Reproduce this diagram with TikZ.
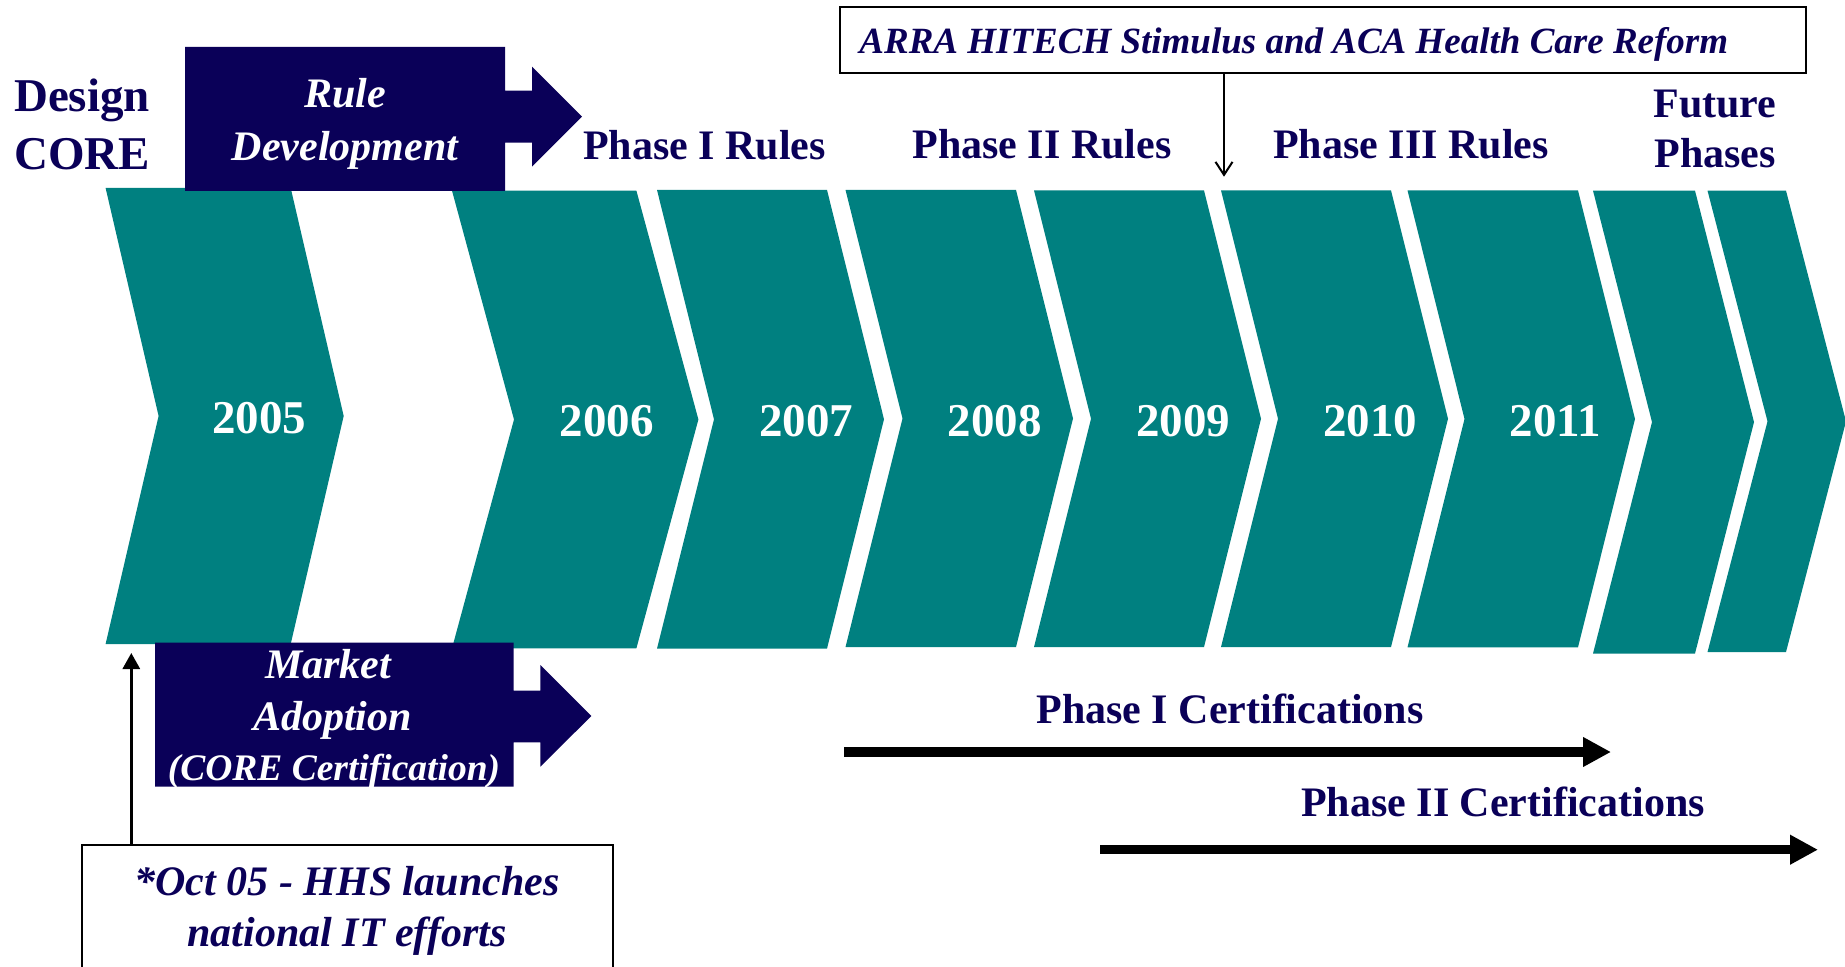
\documentclass[tikz,border=0pt]{standalone}
\usepackage{fontspec}
\setmainfont{Liberation Serif}
\usetikzlibrary{arrows.meta}
\definecolor{navy}{RGB}{10,0,88}
\definecolor{tealc}{RGB}{0,128,128}
\newcommand{\mychev}[5]{%
  \fill[tealc] (#1,#4) -- (#2,#4) -- ({#2+#3},{(#4+#5)/2}) -- (#2,#5) -- (#1,#5) -- ({#1+#3},{(#4+#5)/2}) -- cycle;}
\begin{document}
\begin{tikzpicture}[x=0.5pt,y=-0.5pt,
  lab/.style={text=navy,font=\bfseries\fontsize{21pt}{25pt}\selectfont,inner sep=0pt,anchor=base},
  biglab/.style={text=navy,font=\bfseries\fontsize{23.5pt}{28pt}\selectfont,inner sep=0pt,anchor=base},
  wlab/.style={text=white,font=\bfseries\itshape\fontsize{21pt}{25pt}\selectfont,inner sep=0pt,anchor=base},
  nlab/.style={text=navy,font=\bfseries\itshape\fontsize{21pt}{25pt}\selectfont,inner sep=0pt,anchor=base},
  year/.style={text=white,font=\bfseries\fontsize{23.5pt}{28pt}\selectfont,inner sep=0pt,anchor=base},
  framebox/.style={draw=black,line width=1pt,inner sep=0pt},
  thinarrow/.style={line width=1pt,-{Straight Barb[length=6.5pt,width=8.5pt]}},
  uparrow/.style={line width=1.5pt,-{Triangle[length=8pt,width=8.5pt]}},
  certarrow/.style={line width=4.65pt,-{Triangle[length=14pt,width=14pt]}}
]
\useasboundingbox (0,0) rectangle (1845,967);

% chevrons
\mychev{105.6}{290.7}{53}{188}{644}
\mychev{452}{636.4}{62}{190.7}{648.3}
\mychev{657}{827}{57}{190}{648.7}
\mychev{845.5}{1016}{57}{190}{647}
\mychev{1034}{1204}{57}{190.5}{647}
\mychev{1221}{1391}{57}{190.5}{647}
\mychev{1407.5}{1578}{57}{190.5}{647.3}
\mychev{1593}{1695}{59}{190.7}{653.5}
\mychev{1707.5}{1786}{60}{190.7}{652}

% years
\node[year] (y2005) at (259,434) {2005};
\node[year] (y2006) at (606.6,436.7) {2006};
\node[year] (y2007) at (806,436.7) {2007};
\node[year] (y2008) at (994.7,436.7) {2008};
\node[year] (y2009) at (1183,436.7) {2009};
\node[year] (y2010) at (1370,436.7) {2010};
\node[year] (y2011) at (1555.6,436.7) {2011};

% Design CORE
\node[biglab] (design) at (82,112) {Design};
\node[biglab] (core) at (82,170) {CORE};

% Rule Development block arrow
\fill[navy] (185,47) -- (505,47) -- (505,90.7) -- (532,90.7) -- (532,66.7) -- (582,116.7)
  -- (532,166.7) -- (532,142.7) -- (505,142.7) -- (505,191) -- (185,191) -- cycle;
\node[wlab] (rule1) at (345,108) {Rule};
\node[wlab] (rule2) at (345,161) {Development};

% Market Adoption block arrow
\fill[navy] (155,642.7) -- (513.6,642.7) -- (513.6,690.7) -- (540.4,690.7) -- (540.4,665) -- (591.3,716)
  -- (540.4,766.7) -- (540.4,742.3) -- (513.6,742.3) -- (513.6,786.7) -- (155,786.7) -- cycle;
\node[wlab] (mkt1) at (328,678) {Market};
\node[wlab] (mkt2) at (332.5,730) {Adoption};
\node[wlab,font=\bfseries\itshape\fontsize{18.75pt}{22pt}\selectfont] (mkt3) at (334,780) {(CORE Certification)};

% phase labels
\node[lab] (ph1) at (704.5,160) {Phase I Rules};
\node[lab] (ph2) at (1042,159) {Phase II Rules};
\node[lab] (ph3) at (1411,159) {Phase III Rules};
\node[lab] (fut1) at (1715,118) {Future};
\node[lab] (fut2) at (1715,168) {Phases};

% ARRA box
\node[framebox,minimum width=483.1pt,minimum height=32.7pt] (arra) at (1322.7,40) {};
\node[nlab,font=\bfseries\itshape\fontsize{18.5pt}{22pt}\selectfont,anchor=base west] (arratxt) at (859,53.3)
  {ARRA HITECH Stimulus and ACA Health Care Reform};
\coordinate (arratip) at (1224,176.7);
\draw[thinarrow] (arratip |- arra.south) -- (arratip);

% Oct box
\node[framebox,minimum width=265.3pt,minimum height=72pt] (oct) at (347.7,917) {};
\node[nlab] (oct1) at (347,895) {*Oct 05 - HHS launches};
\node[nlab] (oct2) at (347,946.7) {national IT efforts};
\coordinate (octtip) at (131.3,653);
\draw[uparrow] (octtip |- oct.north) -- (octtip);

% certifications
\node[lab] (cert1) at (1230,723) {Phase I Certifications};
\coordinate (c1s) at (844,752);
\coordinate (c1e) at (1611,752);
\draw[certarrow] (c1s) -- (c1e);
\node[lab] (cert2) at (1503,816.7) {Phase II Certifications};
\coordinate (c2s) at (1100,849.7);
\coordinate (c2e) at (1818,849.7);
\draw[certarrow] (c2s) -- (c2e);
\end{tikzpicture}
\end{document}
